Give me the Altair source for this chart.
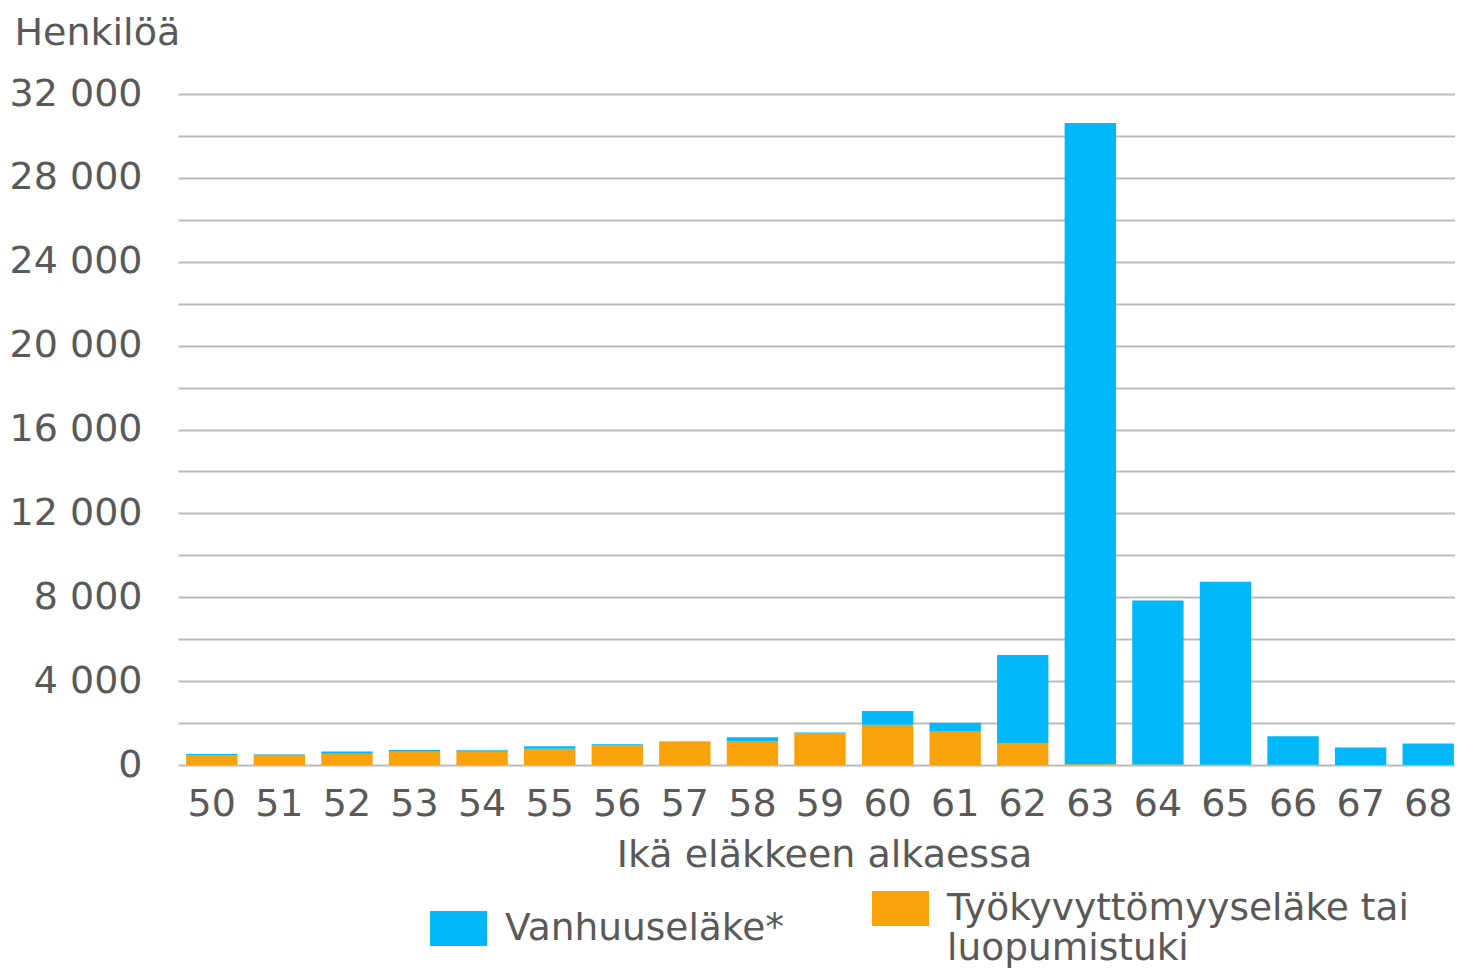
import altair as alt
import pandas as pd

ages = list(range(50, 69))
series_names = ["Vanhuuseläke*", "Työkyvyttömyyseläke tai luopumistuki"]
vanhuus = [50, 20, 100, 80, 70, 110, 30, 20, 180, 20, 650, 400, 4210, 30590, 7820, 8730, 1360, 825, 1015]
tyokyvyttomyys = [480, 490, 540, 630, 630, 780, 970, 1100, 1140, 1530, 1920, 1620, 1030, 30, 20, 10, 10, 5, 5]
colors = ["#02B8F8", "#F9A20B"]
y_ticks = list(range(0, 32001, 2000))

rows = []
for a, v, t in zip(ages, vanhuus, tyokyvyttomyys):
    rows.append({"ika": a, "laji": series_names[1], "arvo": t, "jarj": 0})
    rows.append({"ika": a, "laji": series_names[0], "arvo": v, "jarj": 1})
df = pd.DataFrame(rows)

FONT = "DejaVu Sans"
GREY = "#595959"
FS = 38

chart = alt.Chart(df).mark_bar().encode(
    x=alt.X(
        "ika:O",
        scale=alt.Scale(range=[0, 1284], paddingInner=0.24, paddingOuter=0.12),
        axis=alt.Axis(
            title="Ikä eläkkeen alkaessa",
            labelAngle=0,
            ticks=False,
            domain=False,
            labelPadding=20,
            labelFontSize=FS,
            titleFontSize=FS,
            titleFontWeight="normal",
            titleX=646,
            titleY=101,
            titleBaseline="alphabetic",
            titleAlign="center",
        ),
    ),
    y=alt.Y(
        "arvo:Q",
        stack="zero",
        scale=alt.Scale(domain=[0, 32000], nice=False),
        axis=alt.Axis(
            title="Henkilöä",
            values=y_ticks,
            labelExpr="datum.value % 4000 == 0 ? replace(format(datum.value, ','), ',', ' ') : ''",
            ticks=False,
            domain=False,
            labelPadding=36,
            labelFontSize=FS,
            titleFontSize=FS,
            titleFontWeight="normal",
            titleAngle=0,
            titleAlign="left",
            titleBaseline="alphabetic",
            titleX=-164,
            titleY=-50,
            gridColor="#BBBBBB",
            gridWidth=2,
        ),
    ),
    color=alt.Color(
        "laji:N",
        scale=alt.Scale(domain=series_names, range=colors),
        legend=alt.Legend(
            title=None,
            orient="none",
            direction="horizontal",
            legendX=252,
            legendY=786,
            symbolType="M-1,-0.614H1V0.614H-1Z",
            symbolSize=3249,
            symbolStrokeWidth=0,
            symbolOpacity=1,
            labelFontSize=37.5,
            labelOffset=18,
            columnPadding=88,
            labelLimit=600,
            labelExpr="datum.label == 'Työkyvyttömyyseläke tai luopumistuki' ? ['Työkyvyttömyyseläke tai', 'luopumistuki'] : datum.label",
        ),
    ),
    order=alt.Order("jarj:Q"),
).properties(
    width=1277,
    height=671,
    autosize=alt.AutoSizeParams(type="none"),
    padding={"left": 170, "top": 86, "right": 0, "bottom": 204},
).configure(
    style={"guide-label": {"lineHeight": 40}}
).configure_view(
    stroke=None
).configure_axis(
    labelFont=FONT,
    titleFont=FONT,
    labelColor=GREY,
    titleColor=GREY,
).configure_legend(
    labelFont=FONT,
    labelColor=GREY,
)

chart.save("out.html", embed_options={"renderer": "svg", "actions": False})
